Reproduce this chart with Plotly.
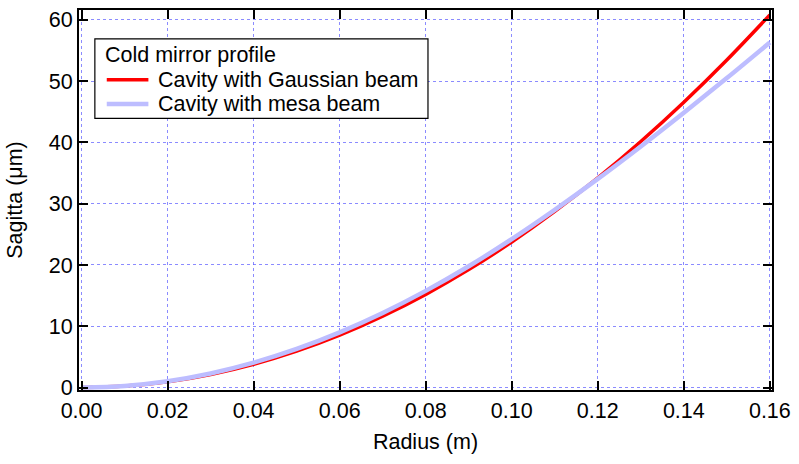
import plotly.graph_objects as go

radius = [0.00, 0.01, 0.02, 0.03, 0.04, 0.05, 0.06, 0.07, 0.08, 0.09, 0.10, 0.11, 0.12, 0.13, 0.14, 0.15, 0.16]
gaussian = [0.0, 0.24, 0.95, 2.14, 3.80, 5.94, 8.55, 11.64, 15.20, 19.24, 23.75, 28.74, 34.20, 40.14, 46.55, 53.44, 60.80]
mesa = [0.0, 0.26, 1.03, 2.30, 4.06, 6.30, 9.01, 12.17, 15.77, 19.79, 24.21, 28.99, 34.04, 39.34, 44.84, 50.49, 56.30]
x_ticks = [0.00, 0.02, 0.04, 0.06, 0.08, 0.10, 0.12, 0.14, 0.16]
y_ticks = [0, 10, 20, 30, 40, 50, 60]
legend_title = "Cold mirror profile"
series_names = ["Cavity with Gaussian beam", "Cavity with mesa beam"]
series_colors = ["#ff0000", "#bdbdff"]
series_widths = [3.5, 4.5]

font = "Liberation Sans, Arial, Helvetica, sans-serif"
fs = 21.5

W, H = 799, 464
ML, MR, MT, MB = 79, 21, 8, 74
PW, PH = W - ML - MR, H - MT - MB


def px(x):
    return (x - ML) / PW


def py(y):
    return (H - MB - y) / PH


fig = go.Figure()
for yvals, name, color, width in zip([gaussian, mesa], series_names, series_colors, series_widths):
    fig.add_trace(go.Scatter(x=radius, y=yvals, mode="lines", name=name, showlegend=False,
                             line=dict(color=color, width=width, shape="spline")))

axis_common = dict(
    showline=True, linecolor="black", linewidth=2, mirror="allticks",
    ticks="inside", ticklen=9, tickwidth=1.5, tickcolor="black",
    showgrid=True, gridcolor="rgba(100,100,255,0.75)", gridwidth=1, griddash="dot",
    zeroline=False, tickfont=dict(size=fs, color="black", family=font),
)

# legend box drawn in paper coordinates
shapes = [dict(type="rect", xref="paper", yref="paper",
               x0=px(95), x1=px(431), y0=py(117), y1=py(37),
               line=dict(color="black", width=1.2), fillcolor="white", layer="above")]
annotations = [dict(xref="paper", yref="paper", x=px(103), y=py(53), xanchor="left", yanchor="middle",
                    text=legend_title, showarrow=False, font=dict(size=fs, family=font, color="black"))]
for i, (name, color, width) in enumerate(zip(series_names, series_colors, series_widths)):
    yy = 78 + i * 24.5
    shapes.append(dict(type="line", xref="paper", yref="paper", x0=px(107), x1=px(149),
                       y0=py(yy), y1=py(yy), line=dict(color=color, width=width), layer="above"))
    annotations.append(dict(xref="paper", yref="paper", x=px(157), y=py(yy), xanchor="left", yanchor="middle",
                            text=name, showarrow=False, font=dict(size=fs, family=font, color="black")))

fig.update_layout(
    width=W, height=H,
    margin=dict(l=ML, r=MR, t=MT, b=MB),
    paper_bgcolor="white", plot_bgcolor="white",
    font=dict(family=font, size=fs, color="black"),
    showlegend=False,
    shapes=shapes,
    annotations=annotations,
    xaxis=dict(range=[-0.0006, 0.1605], tickvals=x_ticks, tickformat=".2f",
               title=dict(text="Radius (m)", font=dict(size=fs, family=font), standoff=12),
               **axis_common),
    yaxis=dict(range=[-0.4, 61.6], tickvals=y_ticks,
               title=dict(text="Sagitta (μm)", font=dict(size=fs, family=font), standoff=20),
               **axis_common),
)

fig.write_html("out.html")
